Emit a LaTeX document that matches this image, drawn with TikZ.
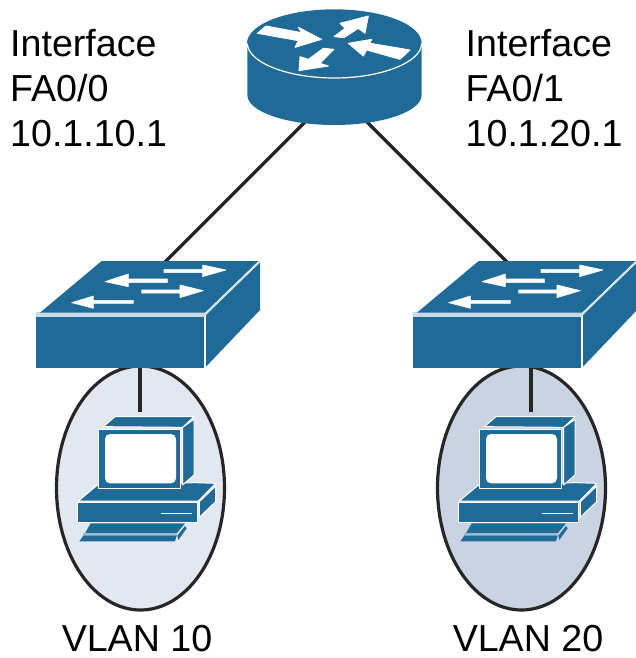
\documentclass[tikz,border=0pt]{standalone}
\usepackage{fontspec}
\setmainfont{Liberation Sans}
\usepackage{tikz}
\usetikzlibrary{positioning,shapes.geometric}
\definecolor{ciscoblue}{HTML}{1F6A97}
\definecolor{vlanpale}{HTML}{E2E7F0}
\definecolor{vlandark}{HTML}{C9D3E2}
\tikzset{
    link/.style={line width=3.4pt, black!85},
    port/.style={inner sep=0pt, minimum size=0pt},
    pcbox/.style={inner sep=0pt, minimum width=140pt, minimum height=125pt},
    vlan/.style={draw=black!85, ellipse, line width=3.2pt, inner sep=0pt, minimum width=168pt, minimum height=244pt},
    label/.style={align=left, anchor=north west, inner sep=0pt, font=\fontsize{37.6}{45}\selectfont},
    vlanname/.style={inner sep=0pt, font=\fontsize{37.6}{42}\selectfont},
    part/.style={fill=ciscoblue, draw=white, line width=1pt, line join=round},
    glyph/.style={fill=white, draw=white, line width=0.6pt, line join=round},
    pics/routericon/.style={code={
        \fill[ciscoblue] (52,130) -- (52,285) .. controls (52,335) and (170,375) .. (313,375)
            .. controls (456,375) and (575,335) .. (575,285) -- (575,130) -- cycle;
        \fill[ciscoblue] (313,130) ellipse [x radius=262, y radius=102];
        \draw[white, line width=1.2pt] (52,130) .. controls (52,186) and (170,234) .. (313,234)
            .. controls (456,234) and (575,186) .. (575,130);
        \draw[glyph, line width=0.9pt] (82,100) -- (108,78) -- (215,98) -- (205,82) -- (275,118) -- (195,142) -- (205,122) -- cycle;
        \draw[glyph, line width=0.9pt] (312,110) -- (345,85) -- (330,70) -- (415,48) -- (405,100) -- (385,85) -- (342,113) -- cycle;
        \draw[glyph, line width=0.9pt] (355,130) -- (425,118) -- (420,130) -- (540,150) -- (510,178) -- (410,150) -- (400,168) -- cycle;
        \draw[glyph, line width=0.9pt] (207,212) -- (210,170) -- (235,178) -- (280,145) -- (312,148) -- (270,190) -- (295,198) -- cycle;
    }},
    pics/switchicon/.style={code={
        \fill[white!75!ciscoblue] (47,185) rectangle (555,200);
        \fill[ciscoblue] (60,188) -- (245,33) -- (715,33) -- (555,188) -- cycle;
        \fill[ciscoblue] (47,200) rectangle (552,355);
        \fill[ciscoblue] (558,195) -- (720,38) -- (720,180) -- (558,350) -- cycle;
        \draw[white!75!ciscoblue, line width=1pt] (555,194) -- (720,33);
        \draw[glyph] (432,58) -- (548,58) -- (548,45) -- (618,60) -- (548,80) -- (548,68) -- (432,68) -- cycle;
        \draw[glyph] (442,87) -- (325,87) -- (325,72) -- (255,95) -- (325,110) -- (325,98) -- (442,98) -- cycle;
        \draw[glyph] (365,120) -- (480,120) -- (480,105) -- (550,122) -- (480,143) -- (480,129) -- (365,129) -- cycle;
        \draw[glyph] (340,151) -- (220,151) -- (220,138) -- (155,158) -- (220,175) -- (220,160) -- (340,160) -- cycle;
    }},
    pics/pcicon/.style={code={
        \draw[part] (85,393) -- (140,347) -- (435,338) -- (497,340) -- (445,393) -- cycle;
        \draw[part] (82,398) rectangle (442,456);
        \draw[part] (448,395) -- (497,348) -- (497,395) -- (448,442) -- cycle;
        \draw[white, line width=1pt] (332,430) -- (425,430);
        \draw[part] (160,170) -- (195,140) -- (432,140) -- (398,172) -- cycle;
        \draw[part] (398,172) -- (432,148) -- (432,315) -- (398,345) -- cycle;
        \draw[part] (146,178) rectangle (392,354);
        \fill[white, rounded corners=5pt] (165,192) rectangle (378,340);
        \fill[ciscoblue] (105,490) -- (122,460) -- (405,460) -- (380,490) -- cycle;
        \fill[ciscoblue!45!white] (100,490) rectangle (380,497);
        \fill[ciscoblue] (88,514) -- (100,497) -- (380,497) -- (375,514) -- cycle;
        \fill[ciscoblue] (385,510) -- (410,475) -- (405,468) -- (382,497) -- cycle;
    }}
}
\begin{document}
\begin{tikzpicture}[x=1pt, y=-1pt]
    \useasboundingbox (0,0) rectangle (636,658);
    \node[vlan, fill=vlanpale] (vlanten) at (140.5,488) {};
    \node[vlan, fill=vlandark] (vlantwenty) at (521.5,488) {};

    \node[port] (router) at (336,91) {};
    \node[port] (switchleft) at (140,287) {};
    \node[port] (switchright) at (531,286) {};
    \node[pcbox] (pcleft) at (140,474.5) {};
    \node[pcbox] (pcright) at (531,474.5) {};

    \draw[link] (router) -- (switchleft);
    \draw[link] (router) -- (switchright);
    \draw[link] (switchleft) -- (pcleft.north);
    \draw[link] (switchright) -- (pcright.north);

    \pic[scale=1/3] at (230,0) {routericon};
    \pic[scale=1/3] at (20,250) {switchicon};
    \pic[scale=1/3] at (397,250) {switchicon};
    \pic[scale=1/3] at (50,370) {pcicon};
    \pic[scale=1/3] at (431,370) {pcicon};

    \node[label] (labelleft) at (10,29.5) {Interface\\FA0/0\\10.1.10.1};
    \node[label] (labelright) at (465.5,29.5) {Interface\\FA0/1\\10.1.20.1};
    \node[vlanname] (nameten) at (137,639) {VLAN 10};
    \node[vlanname] (nametwenty) at (528,639) {VLAN 20};
\end{tikzpicture}
\end{document}
